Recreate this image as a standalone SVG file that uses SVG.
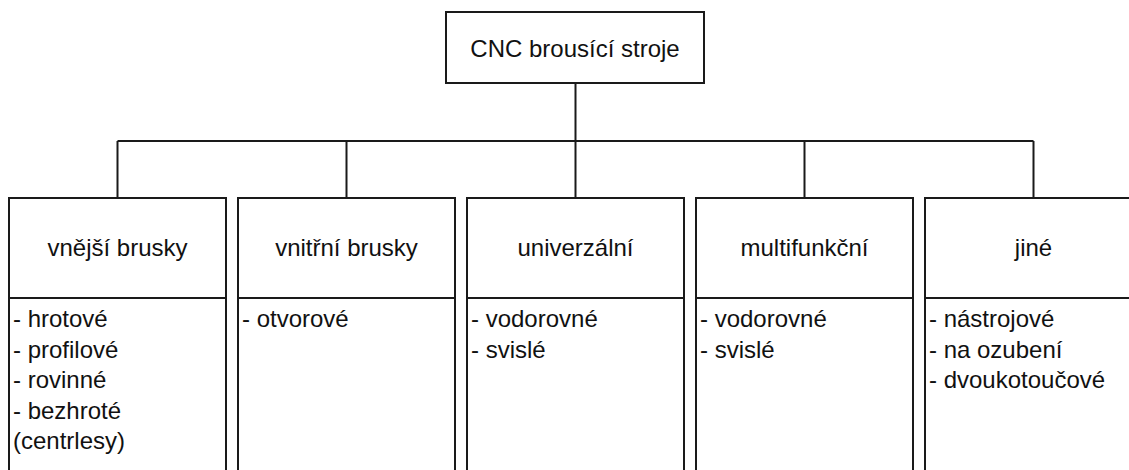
<svg xmlns="http://www.w3.org/2000/svg" width="1129" height="470" viewBox="0 0 1129 470">
<style>
.box{fill:#fff;stroke:#1a1a1a;stroke-width:2}
.ln{stroke:#1a1a1a;stroke-width:2;fill:none}
.t{font-family:"Liberation Sans",Arial,sans-serif;font-size:24px;fill:#111}
.c{text-anchor:middle}
</style>
<rect width="1129" height="470" fill="#fff"/>
<g id="connectors">
<path class="ln" d="M575.5 83 V141 M117.5 141 H1033.5 M117.5 141 V198 M346.5 141 V198 M575.5 141 V198 M804.5 141 V198 M1033.5 141 V198"/>
</g>
<g id="root">
<rect class="box" x="446" y="12" width="258" height="71"/>
<text class="t c" x="575" y="57">CNC brousící stroje</text>
</g>
<g id="vnejsi">
<rect class="box" x="9" y="198" width="217" height="300"/>
<line class="ln" x1="9" y1="298" x2="226" y2="298"/>
<text class="t c" x="117.5" y="256">vnější brusky</text>
<text class="t" x="13" y="327">- hrotové</text>
<text class="t" x="13" y="357.5">- profilové</text>
<text class="t" x="13" y="388">- rovinné</text>
<text class="t" x="13" y="418.5">- bezhroté</text>
<text class="t" x="13" y="449">(centrlesy)</text>
</g>
<g id="vnitrni">
<rect class="box" x="238" y="198" width="217" height="300"/>
<line class="ln" x1="238" y1="298" x2="455" y2="298"/>
<text class="t c" x="346.5" y="256">vnitřní brusky</text>
<text class="t" x="242" y="327">- otvorové</text>
</g>
<g id="univerzalni">
<rect class="box" x="467" y="198" width="217" height="300"/>
<line class="ln" x1="467" y1="298" x2="684" y2="298"/>
<text class="t c" x="575.5" y="256">univerzální</text>
<text class="t" x="471" y="327">- vodorovné</text>
<text class="t" x="471" y="357.5">- svislé</text>
</g>
<g id="multifunkcni">
<rect class="box" x="696" y="198" width="217" height="300"/>
<line class="ln" x1="696" y1="298" x2="913" y2="298"/>
<text class="t c" x="804.5" y="256">multifunkční</text>
<text class="t" x="700" y="327">- vodorovné</text>
<text class="t" x="700" y="357.5">- svislé</text>
</g>
<g id="jine">
<rect class="box" x="925" y="198" width="217" height="300"/>
<line class="ln" x1="925" y1="298" x2="1142" y2="298"/>
<text class="t c" x="1033.5" y="256">jiné</text>
<text class="t" x="929" y="327">- nástrojové</text>
<text class="t" x="929" y="357.5">- na ozubení</text>
<text class="t" x="929" y="388">- dvoukotoučové</text>
</g>
</svg>
